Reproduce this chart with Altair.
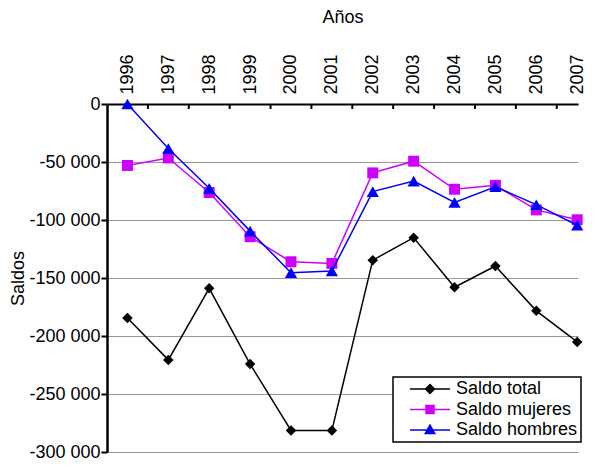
import altair as alt
import pandas as pd

years = list(range(1996, 2008))
saldo_total = [-184500, -220600, -158900, -224200, -281400, -281400,
               -134600, -115200, -158000, -139700, -178300, -205100]
saldo_mujeres = [-53000, -46500, -76300, -114400, -136000, -137400,
                 -59400, -49300, -73500, -70100, -91300, -99800]
saldo_hombres = [0, -38300, -72700, -109600, -145400, -144000,
                 -75500, -66500, -84800, -71300, -86800, -104500]

series_names = ["Saldo total", "Saldo mujeres", "Saldo hombres"]
series_values = [saldo_total, saldo_mujeres, saldo_hombres]
series_colors = ["#000000", "#CC00FF", "#0000FF"]
series_shapes = ["diamond", "square", "triangle-up"]
series_sizes = [110, 120, 150]
# legend glyphs: a short line with the marker on it
legend_paths = [
    "M-4,0H4M0,-0.9L0.9,0L0,0.9L-0.9,0Z",
    "M-4,0H4M-0.8,-0.8H0.8V0.8H-0.8Z",
    "M-4,0H4M0,-1L0.95,0.7H-0.95Z",
]
y_ticks = [0, -50000, -100000, -150000, -200000, -250000, -300000]
half_years = [y + 0.5 for y in years[:-1]]

rows = []
for name, vals in zip(series_names, series_values):
    for yr, v in zip(years, vals):
        rows.append({"year": yr, "saldo": v, "serie": name})
df = pd.DataFrame(rows)
df_ticks = pd.DataFrame({"year": half_years})

FONT = "Liberation Sans"
x_scale = alt.Scale(domain=[1995.5, 2007.02], nice=False, zero=False)
y_scale = alt.Scale(domain=[-300000, 0], nice=False)
col_scale = alt.Scale(domain=series_names, range=series_colors)

x_axis = alt.Axis(
    orient="top", values=years, format="d", labelAngle=-90, ticks=False,
    grid=False, title="Años", domainColor="black", domainWidth=2,
    labelFontSize=18, labelPadding=10, labelColor="black",
    titleFontSize=18, titleFontWeight="normal", titlePadding=27,
    titleColor="black",
)
y_axis = alt.Axis(
    values=y_ticks,
    labelExpr="datum.value == 0 ? '0' : '-' + floor(-datum.value / 1000) + ' 000'",
    grid=True, gridColor="#999999", gridWidth=1,
    domainColor="black", domainWidth=2.5, tickColor="black", tickSize=6,
    tickWidth=2, labelFontSize=18, labelPadding=1, labelColor="black",
    title="Saldos", titleFontSize=18, titleFontWeight="normal",
    titlePadding=1, titleColor="black",
)
legend_def = alt.Legend(
    title=None, orient="none", legendX=286, legendY=273, labelFontSize=18,
    labelColor="black", padding=3, rowPadding=2.5,
    strokeColor="black", fillColor="white", symbolStrokeWidth=1.5,
    symbolSize=100, symbolOffset=25, labelOffset=17, symbolOpacity=1,
)
X = alt.X("year:Q", scale=x_scale, axis=x_axis)
Y = alt.Y("saldo:Q", scale=y_scale, axis=y_axis)
FILL = alt.Fill("serie:N", scale=col_scale, legend=legend_def)
STROKE = alt.Stroke("serie:N", scale=col_scale, legend=legend_def)

layers = []
# small inward ticks between the years on the top axis
layers.append(
    alt.Chart(df_ticks).mark_rule(color="black", strokeWidth=2).encode(
        x=X, y=alt.value(0), y2=alt.value(5),
    )
)
for name, shape, size in zip(series_names, series_shapes, series_sizes):
    sub = alt.Chart(df).transform_filter(alt.datum.serie == name)
    line = sub.mark_line(strokeWidth=1.5).encode(x=X, y=Y, stroke=STROKE)
    pts = sub.mark_point(filled=True, shape=shape, size=size, opacity=1).encode(
        x=X, y=Y, fill=FILL,
    )
    layers += [line, pts]

# legend-only layer (no visible marks): line + marker glyphs
legend_layer = alt.Chart(df).transform_filter("false").mark_point(filled=True).encode(
    x=X, y=Y, fill=FILL, stroke=STROKE,
    shape=alt.Shape("serie:N", scale=alt.Scale(domain=series_names, range=legend_paths),
                    legend=legend_def),
)
layers.append(legend_layer)

chart = alt.layer(*layers).properties(
    width=471, height=348,
    autosize=alt.AutoSizeParams(type="none"),
    padding={"left": 99, "top": 96, "right": 9, "bottom": 9},
).configure(font=FONT).configure_view(stroke=None).configure_legend(strokeWidth=1.5)

chart.save("out.html", embed_options={"renderer": "svg", "actions": False})
